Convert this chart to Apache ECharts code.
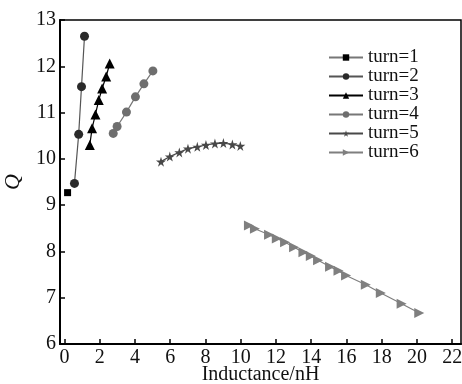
<!DOCTYPE html>
<html>
<head>
<meta charset="utf-8">
<script src="https://cdn.jsdelivr.net/npm/echarts@6/dist/echarts.min.js"></script>
<style>
  html, body { margin: 0; padding: 0; background: #fff; }
  #chart { width: 462px; height: 384px; }
</style>
</head>
<body>
<div id="chart"></div>
<script>
// 数据 (Inductance/nH, Q)
const turn1 = [[0.18, 9.27]];
const turn2 = [[0.57, 9.47], [0.81, 10.53], [0.97, 11.56], [1.14, 12.65]];
const turn3 = [[1.44, 10.30], [1.57, 10.66], [1.76, 10.96], [1.95, 11.27], [2.14, 11.52], [2.37, 11.78], [2.57, 12.06]];
const turn4 = [[2.77, 10.55], [2.99, 10.70], [3.52, 11.01], [4.03, 11.34], [4.51, 11.62], [5.02, 11.90]];
const turn5 = [[5.48, 9.94], [5.98, 10.05], [6.52, 10.14], [7.01, 10.22], [7.54, 10.26], [8.03, 10.30], [8.54, 10.33], [9.02, 10.34], [9.53, 10.31], [9.98, 10.28]];
const turn6 = [[10.47, 8.56], [10.81, 8.49], [11.61, 8.36], [12.05, 8.28], [12.52, 8.20], [13.03, 8.09], [13.56, 7.98], [13.98, 7.90], [14.39, 7.81], [15.07, 7.67], [15.55, 7.58], [15.98, 7.48], [17.10, 7.28], [17.95, 7.10], [19.13, 6.87], [20.13, 6.67]];

const xTicks = [0, 2, 4, 6, 8, 10, 12, 14, 16, 18, 20, 22];
const seriesNames = ['turn=1', 'turn=2', 'turn=3', 'turn=4', 'turn=5', 'turn=6'];

const starPath = 'path://M50,0 L61,35 L98,35 L68,57 L79,91 L50,70 L21,91 L32,57 L2,35 L39,35 Z';
const rightTriPath = 'path://M0,0 L10,5 L0,10 Z';
const font = '"Liberation Serif", "DejaVu Serif", serif';

const chart = echarts.init(document.getElementById('chart'));

function makeSeries(name, data, symbol, size, markColor, lineColor) {
  return {
    name: name,
    type: 'line',
    data: data,
    symbol: symbol,
    symbolSize: size,
    showAllSymbol: true,
    animation: false,
    itemStyle: { color: markColor },
    lineStyle: { color: lineColor, width: 1.2 }
  };
}

const option = {
  backgroundColor: '#fff',
  animation: false,
  grid: {
    left: 60,
    right: 1,
    top: 20,
    bottom: 40,
    outerBoundsMode: 'none',
    containLabel: false,
    show: true,
    borderColor: '#000',
    borderWidth: 1.5
  },
  legend: {
    orient: 'vertical',
    left: 323,
    top: 43,
    itemWidth: 34,
    itemHeight: 8,
    itemGap: 0,
    data: seriesNames,
    textStyle: { fontFamily: font, fontSize: 19, lineHeight: 19, color: '#111' }
  },
  xAxis: {
    type: 'value',
    min: -0.25,
    max: 22.5,
    name: 'Inductance/nH',
    nameLocation: 'middle',
    nameGap: 21,
    nameMoveOverlap: false,
    nameTextStyle: { fontFamily: font, fontSize: 20, color: '#111' },
    axisLine: { onZero: false, lineStyle: { color: '#000', width: 2 } },
    axisTick: { inside: true, length: 5, customValues: xTicks, lineStyle: { color: '#000', width: 1.5 } },
    axisLabel: { customValues: xTicks, fontFamily: font, fontSize: 20, color: '#111', margin: 4 },
    splitLine: { show: false }
  },
  yAxis: {
    type: 'value',
    min: 6,
    max: 13,
    interval: 1,
    name: 'Q',
    nameLocation: 'middle',
    nameGap: 36,
    nameMoveOverlap: false,
    nameRotate: 90,
    nameTextStyle: { fontFamily: font, fontSize: 22, fontStyle: 'italic', color: '#111' },
    axisLine: { onZero: false, lineStyle: { color: '#000', width: 2 } },
    axisTick: { inside: true, length: 5, lineStyle: { color: '#000', width: 1.5 } },
    axisLabel: { fontFamily: font, fontSize: 20, color: '#111', margin: 4 },
    splitLine: { show: false }
  },
  series: [
    makeSeries('turn=1', turn1, 'rect', 7, '#000', '#777'),
    makeSeries('turn=2', turn2, 'circle', 9, '#2a2a2a', '#555'),
    makeSeries('turn=3', turn3, 'triangle', 10, '#000', '#000'),
    makeSeries('turn=4', turn4, 'circle', 9, '#6e6e6e', '#777'),
    makeSeries('turn=5', turn5, starPath, 10, '#484848', '#484848'),
    makeSeries('turn=6', turn6, rightTriPath, 10, '#7f7f7f', '#7f7f7f')
  ]
};

chart.setOption(option);
</script>
</body>
</html>
